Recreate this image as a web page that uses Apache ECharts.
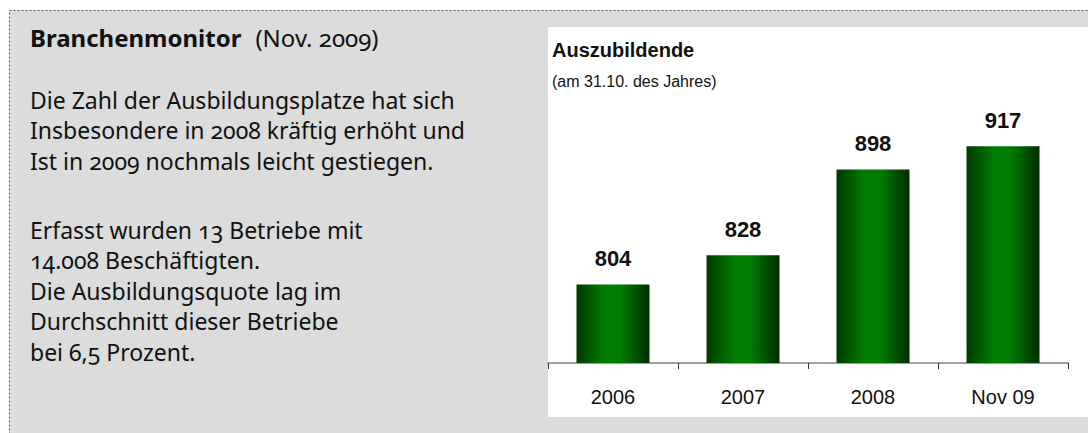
<!DOCTYPE html>
<html>
<head>
<meta charset="utf-8">
<script src="https://cdn.jsdelivr.net/npm/echarts@6/dist/echarts.min.js"></script>
<style>
  html, body { margin: 0; padding: 0; background: #ffffff; }
  #chart { width: 1088px; height: 433px; }
  /* old-style figures for the commentary text */
  #chart text { font-variant-numeric: oldstyle-nums !important; font-feature-settings: "onum" 1 !important; }
</style>
</head>
<body>
<div id="chart"></div>
<script>
// Trainees per year (as of 31 Oct)
const categories = ['2006', '2007', '2008', 'Nov 09'];
const trainees = [804, 828, 898, 917];

const chartTitle = 'Auszubildende';
const chartSubtitle = '(am 31.10. des Jahres)';

const headBold = 'Branchenmonitor';
const headPlain = '(Nov. 2009)';
const paragraphOne = [
  'Die Zahl der Ausbildungsplatze hat sich',
  'Insbesondere in 2008 kräftig erhöht und',
  'Ist in 2009 nochmals leicht gestiegen.'
];
const paragraphTwo = [
  'Erfasst wurden 13 Betriebe mit',
  '14.008 Beschäftigten.',
  'Die Ausbildungsquote lag im',
  'Durchschnitt dieser Betriebe',
  'bei 6,5 Prozent.'
];

const bodyFont = '"Noto Sans", "Open Sans", sans-serif';
const chartFont = '"Liberation Sans", Arial, sans-serif';
const lineStep = 30.6;

function textLines(lines, firstY) {
  return lines.map((t, i) => ({
    type: 'text',
    left: 30,
    top: firstY + i * lineStep,
    z: 10,
    style: {
      text: t,
      fill: '#111111',
      font: '23px ' + bodyFont
    }
  }));
}

const barFill = new echarts.graphic.LinearGradient(0, 0, 1, 0, [
  { offset: 0, color: '#003a00' },
  { offset: 0.38, color: '#007c00' },
  { offset: 0.6, color: '#007c00' },
  { offset: 1, color: '#002c00' }
]);

const chart = echarts.init(document.getElementById('chart'), null, { renderer: 'svg' });
chart.setOption({
  animation: false,
  backgroundColor: '#ffffff',
  grid: { left: 548, right: 20, top: 118, bottom: 70 },
  xAxis: {
    type: 'category',
    data: categories,
    axisLine: { lineStyle: { color: '#808080', width: 1.5 } },
    axisTick: { show: true, length: 6, lineStyle: { color: '#333333' } },
    axisLabel: { color: '#111111', fontSize: 20, fontFamily: chartFont, margin: 24 }
  },
  yAxis: {
    type: 'value',
    min: 740,
    max: 940,
    interval: 20,
    show: false,
    splitLine: { show: false }
  },
  series: [{
    type: 'bar',
    data: trainees,
    barWidth: 73,
    itemStyle: { color: barFill },
    label: {
      show: true,
      position: 'top',
      distance: 15,
      color: '#111111',
      fontSize: 22,
      fontWeight: 'bold',
      fontFamily: chartFont
    }
  }],
  graphic: [
    {
      type: 'rect',
      z: -10,
      shape: { x: 9.5, y: 10.5, width: 1100, height: 440 },
      style: { fill: '#dcdcdc', stroke: '#555555', lineWidth: 1, lineDash: [2, 2] }
    },
    {
      type: 'rect',
      z: -5,
      shape: { x: 548, y: 27, width: 540, height: 390 },
      style: { fill: '#ffffff' }
    },
    {
      type: 'text',
      left: 552,
      top: 40,
      z: 10,
      style: { text: chartTitle, fill: '#111111', font: 'bold 20px ' + chartFont }
    },
    {
      type: 'text',
      left: 552,
      top: 73,
      z: 10,
      style: { text: chartSubtitle, fill: '#111111', font: '16px ' + chartFont }
    },
    {
      type: 'text',
      left: 30,
      top: 25,
      z: 10,
      style: {
        text: '{b|' + headBold + '}{n|' + headPlain + '}',
        rich: {
          b: { font: 'bold 24px ' + bodyFont, fill: '#111111' },
          n: { font: '24px ' + bodyFont, fill: '#111111', padding: [0, 0, 0, 14] }
        }
      }
    }
  ].concat(textLines(paragraphOne, 88), textLines(paragraphTwo, 218))
});
</script>
</body>
</html>
